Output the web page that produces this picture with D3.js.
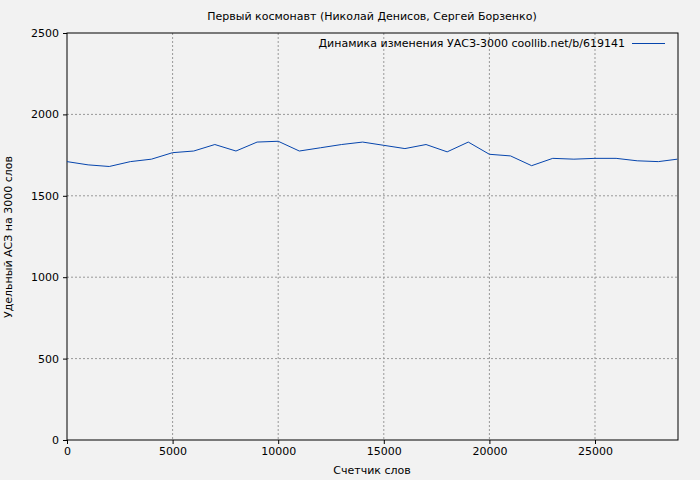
<!DOCTYPE html>
<html><head><meta charset="utf-8">
<script src="https://cdn.jsdelivr.net/npm/d3@7"></script>
<style>body{margin:0;background:#f2f2f2;font-family:"DejaVu Sans",sans-serif;}</style>
</head><body><svg id="c" width="700" height="480"></svg>
<script>
"use strict";
var words = [0,1000,2000,3000,4000,5000,6000,7000,8000,9000,10000,11000,12000,13000,14000,
    15000,16000,17000,18000,19000,20000,21000,22000,23000,24000,25000,26000,27000,28000,28900];
var uasz = [1710,1690,1680,1710,1725,1765,1775,1815,1775,1830,1835,1775,1795,1815,1830,
    1810,1790,1815,1770,1830,1755,1745,1685,1730,1725,1730,1730,1715,1710,1725];
var xTicks = [0,5000,10000,15000,20000,25000];
var yTicks = [0,500,1000,1500,2000,2500];

var m = {l:67, r:678, t:33, b:440};
var svg = d3.select("#c");
svg.append("rect").attr("width",700).attr("height",480).attr("fill","#f2f2f2");
var x = d3.scaleLinear().domain([0,28930]).range([m.l,m.r]);
var y = d3.scaleLinear().domain([0,2500]).range([m.b,m.t]);

// grid
svg.append("g").selectAll("line").data(xTicks.slice(1)).enter().append("line")
    .attr("x1",x).attr("x2",x).attr("y1",m.t).attr("y2",m.b)
    .attr("stroke","#999").attr("stroke-dasharray","2,2");
svg.append("g").selectAll("line").data(yTicks.slice(1,-1)).enter().append("line")
    .attr("y1",y).attr("y2",y).attr("x1",m.l).attr("x2",m.r)
    .attr("stroke","#999").attr("stroke-dasharray","2,2");

svg.append("rect").attr("x",m.l).attr("y",m.t).attr("width",m.r-m.l).attr("height",m.b-m.t)
    .attr("fill","none").attr("stroke","#000");

var xa = svg.append("g").attr("transform","translate(0,"+m.b+")")
    .call(d3.axisBottom(x).tickValues(xTicks).tickFormat(d3.format("d")).tickSizeOuter(0).tickSize(4));
var ya = svg.append("g").attr("transform","translate("+m.l+",0)")
    .call(d3.axisLeft(y).tickValues(yTicks).tickFormat(d3.format("d")).tickSizeOuter(0).tickSize(4));
[xa,ya].forEach(function(a){
    a.selectAll("text").attr("font-size",11).attr("font-family","DejaVu Sans").attr("fill","#000");
    a.select(".domain").remove();
});
ya.selectAll("text").attr("x",-8);

svg.append("path").datum(d3.zip(words,uasz))
    .attr("d",d3.line().x(function(d){return x(d[0]);}).y(function(d){return y(d[1]);}))
    .attr("fill","none").attr("stroke","#0645ad").attr("stroke-width",1);

svg.append("text").attr("x",372).attr("y",20).attr("text-anchor","middle")
    .attr("font-size",11).text("Первый космонавт (Николай Денисов, Сергей Борзенко)");
svg.append("text").attr("x",372).attr("y",474).attr("text-anchor","middle")
    .attr("font-size",11).text("Счетчик слов");
svg.append("text").attr("transform","translate(12,237) rotate(-90)").attr("text-anchor","middle")
    .attr("font-size",11).text("Удельный АСЗ на 3000 слов");
svg.append("text").attr("x",625).attr("y",47).attr("text-anchor","end")
    .attr("font-size",11).text("Динамика изменения УАСЗ-3000 coollib.net/b/619141");
svg.append("line").attr("x1",632).attr("x2",665).attr("y1",43.5).attr("y2",43.5)
    .attr("stroke","#0645ad");
</script></body></html>
